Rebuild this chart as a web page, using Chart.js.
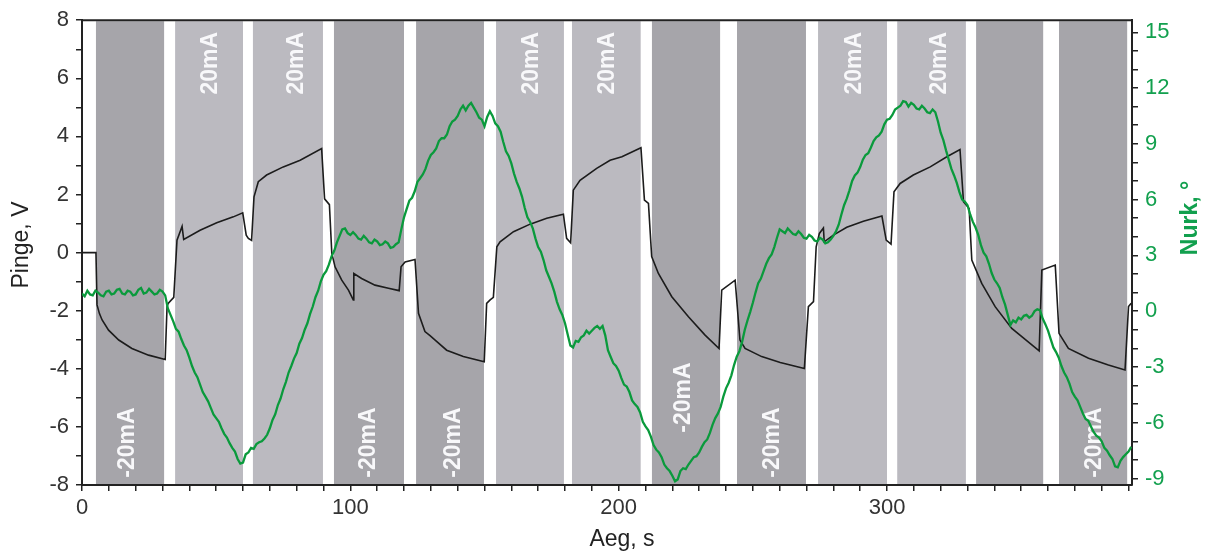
<!DOCTYPE html>
<html>
<head>
<meta charset="utf-8">
<script src="https://cdn.jsdelivr.net/npm/chart.js@4.4.0/dist/chart.umd.min.js"></script>
<style>
  html, body { margin: 0; padding: 0; background: #fff; }
  #wrap { width: 1208px; height: 554px; }
</style>
</head>
<body>
<div id="wrap"><canvas id="c" width="1208" height="554"></canvas></div>
<script>
// voltage (Pinge, V) - time in s
const voltTime = [0, 5.2, 5.6, 6.5, 7.5, 9.9, 13.7, 18.6, 24.8, 31.0, 31.7, 32.1, 34.2, 35.4, 37.3, 37.9, 44.0, 50.2, 56.4, 59.9,
  61.2, 62.0, 63.2, 64.1, 65.7, 68.8, 75.0, 81.3, 89.3, 90.4, 92.2, 93.1, 94.3, 96.8, 99.3, 101.1, 101.3, 104.2, 109.2, 114.2,
  118.2, 118.9, 120.4, 124.1, 125.4, 127.8, 129.7, 131.6, 135.9, 142.1, 149.9, 150.8, 152.1, 153.3, 154.6, 155.8, 160.8, 167.0, 173.2, 179.4,
  180.6, 182.1, 183.1, 185.6, 191.8, 196.8, 201.2, 208.3, 209.6, 211.1, 212.3, 214.8, 219.8, 226.0, 232.2, 237.4, 238.4, 243.4, 245.2, 247.1,
  253.3, 260.2, 269.2, 270.7, 272.6, 273.6, 274.8, 276.3, 276.6, 280.0, 285.0, 291.2, 298.1, 299.7, 301.5, 302.6, 304.9, 309.8, 316.1, 322.3,
  327.2, 328.5, 330.6, 331.6, 335.3, 340.3, 346.5, 356.7, 357.7, 362.7, 364.1, 367.6, 375.1, 382.5, 388.7, 390.0, 391.0];
const voltValue = [0, 0, -1.8, -2.1, -2.32, -2.67, -3.01, -3.30, -3.53, -3.68, -1.85, -1.75, -1.54, 0.43, 0.9, 0.45, 0.77, 1.03, 1.23, 1.37,
  0.6, 0.49, 0.42, 1.92, 2.44, 2.67, 2.95, 3.18, 3.58, 1.85, 1.65, -0.03, -0.49, -0.95, -1.29, -1.63, -0.72, -0.89, -1.12, -1.23,
  -1.31, -0.49, -0.32, -0.24, -2.09, -2.72, -2.86, -3.01, -3.36, -3.58, -3.76, -1.75, -1.63, -1.54, 0.20, 0.37, 0.72, 0.98, 1.18, 1.32,
  0.49, 0.34, 2.15, 2.49, 2.90, 3.18, 3.30, 3.61, 1.81, 1.69, -0.14, -0.72, -1.52, -2.21, -2.84, -3.30, -1.29, -0.95, -3.01, -3.30,
  -3.58, -3.78, -3.99, -1.86, -1.69, 0.20, 0.66, 0.85, 0.37, 0.60, 0.87, 1.08, 1.26, 0.43, 0.29, 2.09, 2.38, 2.67, 2.95, 3.30,
  3.55, 1.75, 1.52, -0.26, -1.06, -1.86, -2.61, -3.38, -0.60, -0.43, -2.78, -3.30, -3.64, -3.87, -4.04, -1.86, -1.74];

// angle (Nurk, deg), sampled every 1 s from t = 0
const angleStart = 0;
const angleStep = 1;
const angleValue = [
  0.95, 0.8, 1.1, 0.9, 0.85, 1.1, 1.0, 0.85, 0.8, 1.05,
  1.1, 0.9, 0.95, 1.15, 1.2, 0.95, 0.9, 1.1, 1.05, 0.85,
  0.9, 1.15, 1.25, 0.95, 1.0, 1.2, 1.05, 0.9, 0.95, 1.15,
  1.05, 0.85, 0.15, -0.2, -0.55, -0.95, -1.1, -1.5, -1.85, -2.1,
  -2.5, -2.95, -3.3, -3.55, -3.95, -4.35, -4.6, -4.85, -5.2, -5.55,
  -5.75, -5.95, -6.3, -6.6, -6.8, -7.1, -7.35, -7.55, -7.95, -8.2,
  -8.15, -7.7, -7.6, -7.35, -7.4, -7.15, -7.05, -7.0, -6.85, -6.65,
  -6.3, -5.85, -5.55, -5.05, -4.7, -4.2, -3.8, -3.3, -2.95, -2.55,
  -2.25, -1.75, -1.45, -1.0, -0.65, -0.15, 0.25, 0.75, 1.1, 1.6,
  1.95, 2.15, 2.5, 2.95, 3.25, 3.7, 4.05, 4.4, 4.45, 4.2,
  4.1, 4.25, 4.1, 3.9, 3.85, 4.05, 3.9, 3.7, 3.65, 3.85,
  3.75, 3.55, 3.6, 3.75, 3.65, 3.4, 3.45, 3.6, 3.7, 4.4,
  5.05, 5.5, 5.95, 6.1, 6.45, 6.95, 7.15, 7.35, 7.65, 8.1,
  8.4, 8.55, 8.75, 9.15, 9.3, 9.3, 9.5, 9.95, 10.2, 10.3,
  10.5, 10.85, 11.05, 10.8, 11.05, 11.2, 10.95, 10.7, 10.4, 10.3,
  9.95, 10.45, 10.75, 10.5, 10.1, 9.95, 9.65, 9.1, 8.6, 8.35,
  7.95, 7.4, 6.95, 6.6, 6.15, 5.55, 5.05, 4.8, 4.45, 3.9,
  3.45, 3.2, 2.75, 2.2, 1.85, 1.5, 1.05, 0.5, 0.1, -0.2,
  -0.65, -1.25, -1.85, -1.95, -1.6, -1.65, -1.4, -1.3, -1.05, -1.2,
  -1.05, -0.9, -0.8, -0.95, -0.8, -1.3, -2.1, -2.45, -2.8, -2.95,
  -3.2, -3.6, -3.95, -4.05, -4.35, -4.8, -5.0, -5.15, -5.45, -5.95,
  -6.2, -6.4, -6.75, -7.2, -7.45, -7.6, -7.85, -8.25, -8.45, -8.6,
  -8.85, -9.15, -9.05, -8.6, -8.45, -8.5, -8.25, -8.05, -7.85, -7.8,
  -7.6, -7.3, -7.05, -6.9, -6.55, -6.1, -5.75, -5.5, -5.15, -4.6,
  -4.15, -3.85, -3.45, -2.9, -2.45, -2.15, -1.65, -1.0, -0.5, -0.05,
  0.45, 1.0, 1.5, 1.75, 2.15, 2.55, 2.85, 3.05, 3.45, 3.95,
  4.4, 4.3, 4.2, 4.45, 4.3, 4.15, 4.1, 4.3, 4.15, 3.95,
  3.9, 4.1, 4.0, 3.8, 3.75, 3.95, 3.85, 3.65, 3.7, 3.85,
  4.05, 4.3, 4.65, 5.2, 5.7, 6.05, 6.5, 7.0, 7.3, 7.45,
  7.75, 8.15, 8.4, 8.5, 8.8, 9.15, 9.35, 9.45, 9.65, 10.05,
  10.3, 10.35, 10.55, 10.85, 10.95, 11.05, 11.3, 11.25, 11.0, 11.2,
  11.1, 10.9, 10.85, 11.05, 10.9, 10.7, 10.65, 10.85, 10.7, 10.2,
  9.6, 9.2, 8.65, 8.15, 7.65, 7.3, 6.9, 6.4, 6.0, 5.9,
  5.7, 5.2, 4.8, 4.5, 4.1, 3.55, 3.15, 2.95, 2.55, 2.05,
  1.7, 1.5, 1.25, 0.75, 0.35, -0.2, -0.75, -0.5, -0.6, -0.35,
  -0.45, -0.25, -0.2, -0.35, -0.25, 0.0, 0.1, 0.05, -0.4, -0.7,
  -1.05, -1.5, -1.95, -2.2, -2.5, -2.95, -3.3, -3.55, -3.9, -4.35,
  -4.6, -4.8, -5.15, -5.5, -5.8, -5.9, -6.2, -6.5, -6.7, -6.8,
  -7.0, -7.35, -7.5, -7.75, -7.95, -8.35, -8.4, -8.05, -7.85, -7.7,
  -7.55, -7.3];

// current steps (background bands)
const bandStart = [5.2, 34.7, 63.7, 93.9, 124.5, 154.3, 182.6, 212.4, 244.1, 274.3, 303.8, 333.2, 364.1];
const bandEnd = [30.6, 60.0, 89.8, 120.0, 149.8, 179.6, 208.2, 237.8, 269.8, 300.0, 329.4, 358.2, 389.5];
const bandCurrent = [-20, 20, 20, -20, -20, 20, 20, -20, -20, 20, 20, -20, -20];

// band labels: which band, and where the text is anchored (x in s, y in V)
const labelBand = [0, 1, 2, 3, 4, 5, 6, 7, 8, 9, 10, 12];
const labelX = [17.0, 48.1, 80.1, 107.0, 138.6, 167.7, 196.0, 224.2, 257.2, 288.1, 319.8, 377.2];
const labelY = [-7.75, 7.6, 7.6, -7.75, -7.75, 7.6, 7.6, -6.2, -7.75, 7.6, 7.6, -7.75];

// tick labels
const xLabels = [0, 100, 200, 300];
const leftLabels = [-8, -6, -4, -2, 0, 2, 4, 6, 8];
const rightLabels = [-9, -6, -3, 0, 3, 6, 9, 12, 15];

const FONT = '"Liberation Sans", Arial, sans-serif';
const GREEN = '#0a9a3c';
const GREEN_TXT = '#12a04e';
const AXIS = '#222';

const bandsPlugin = {
  id: 'bands',
  beforeDatasetsDraw(chart) {
    const { ctx, chartArea: a, scales: { x, y } } = chart;
    ctx.save();
    bandStart.forEach((s, i) => {
      const x0 = x.getPixelForValue(s);
      const x1 = x.getPixelForValue(bandEnd[i]);
      ctx.fillStyle = bandCurrent[i] < 0 ? '#a6a5aa' : '#bbbac0';
      ctx.fillRect(x0, a.top + 1, x1 - x0, a.bottom - a.top - 2);
    });
    ctx.font = 'bold 23px ' + FONT;
    ctx.fillStyle = '#f8f8fa';
    ctx.textBaseline = 'middle';
    labelBand.forEach((b, i) => {
      const px = x.getPixelForValue(labelX[i]);
      const py = y.getPixelForValue(labelY[i]);
      ctx.save();
      ctx.translate(px, py);
      ctx.rotate(-Math.PI / 2);
      ctx.textAlign = bandCurrent[b] < 0 ? 'left' : 'right';
      ctx.fillText(bandCurrent[b] + 'mA', 0, 0);
      ctx.restore();
    });
    ctx.restore();
  },
  afterDraw(chart) {
    const { ctx, chartArea: a } = chart;
    ctx.save();
    // top frame line
    ctx.strokeStyle = AXIS;
    ctx.lineWidth = 2;
    ctx.beginPath();
    ctx.moveTo(a.left - 1, a.top);
    ctx.lineTo(a.right + 1, a.top);
    ctx.stroke();
    // axis titles
    ctx.textAlign = 'center';
    ctx.textBaseline = 'middle';
    ctx.font = '23px ' + FONT;
    ctx.fillStyle = '#222';
    ctx.fillText('Aeg, s', 622, 540);
    ctx.save();
    ctx.translate(22, 245);
    ctx.rotate(-Math.PI / 2);
    ctx.fillText('Pinge, V', 0, 0);
    ctx.restore();
    ctx.save();
    ctx.translate(1191, 218);
    ctx.rotate(-Math.PI / 2);
    ctx.font = 'bold 23px ' + FONT;
    ctx.fillStyle = GREEN_TXT;
    ctx.fillText('Nurk, °', 0, 0);
    ctx.restore();
    ctx.restore();
  }
};

const tickFont = { family: FONT, size: 22 };

new Chart(document.getElementById('c'), {
  type: 'line',
  data: {
    datasets: [{
      label: 'Nurk',
      data: angleValue.map((v, i) => ({ x: angleStart + i * angleStep, y: v })),
      yAxisID: 'y2',
      borderColor: GREEN,
      borderWidth: 2.3,
      pointRadius: 0,
      tension: 0
    }, {
      label: 'Pinge',
      data: voltTime.map((t, i) => ({ x: t, y: voltValue[i] })),
      yAxisID: 'y',
      borderColor: '#1c1c1c',
      borderWidth: 1.6,
      pointRadius: 0,
      tension: 0
    }]
  },
  options: {
    responsive: false,
    animation: false,
    devicePixelRatio: 1,
    layout: { padding: { top: 20, left: 0, right: 0, bottom: 0 } },
    plugins: { legend: { display: false }, tooltip: { enabled: false } },
    scales: {
      x: {
        type: 'linear',
        min: 0,
        max: 391.3,
        afterFit(s) { s.height = 69; },
        afterBuildTicks(s) {
          const t = [];
          for (let v = 0; v <= 390; v += 10) t.push({ value: v });
          s.ticks = t;
        },
        ticks: {
          autoSkip: false, maxRotation: 0, padding: 4, color: '#333', font: tickFont,
          callback: v => xLabels.includes(v) ? String(v) : ''
        },
        grid: { drawOnChartArea: false, tickLength: 6, color: AXIS, lineWidth: 1.5 },
        border: { color: AXIS, width: 2 }
      },
      y: {
        position: 'left',
        min: -8,
        max: 8,
        afterFit(s) { s.width = 82; },
        afterBuildTicks(s) {
          const t = [];
          for (let v = -8; v <= 8; v += 1) t.push({ value: v });
          s.ticks = t;
        },
        ticks: {
          autoSkip: false, padding: 7, color: '#333', font: tickFont,
          callback: v => leftLabels.includes(v) ? String(v) : ''
        },
        grid: { drawOnChartArea: false, tickLength: 6, color: AXIS, lineWidth: 1.5 },
        border: { color: AXIS, width: 2 }
      },
      y2: {
        position: 'right',
        min: -9.35,
        max: 15.65,
        afterFit(s) { s.width = 76; },
        afterBuildTicks(s) {
          const t = [];
          for (let v = -9; v <= 15; v += 1) t.push({ value: v });
          s.ticks = t;
        },
        ticks: {
          autoSkip: false, padding: 7, color: GREEN_TXT, font: tickFont,
          callback: v => rightLabels.includes(v) ? String(v) : ''
        },
        grid: { drawOnChartArea: false, tickLength: 6, color: AXIS, lineWidth: 1.5 },
        border: { color: AXIS, width: 2 }
      }
    }
  },
  plugins: [bandsPlugin]
});
</script>
</body>
</html>
